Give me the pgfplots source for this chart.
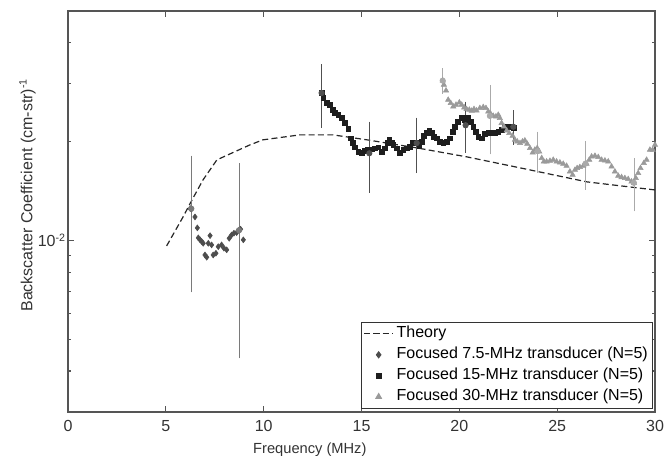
\documentclass[border=0pt]{standalone}
\usepackage{fontspec}
\setmainfont{Liberation Sans}
\usepackage{pgfplots}
\pgfplotsset{compat=1.18}
\definecolor{axgray}{HTML}{555555}
\definecolor{dgray}{HTML}{4D4D4D}
\definecolor{sqblack}{HTML}{1E1E1E}
\definecolor{tgray}{HTML}{9A9A9A}
\definecolor{ebA}{HTML}{7A7A7A}
\definecolor{ebB}{HTML}{505050}
\definecolor{ebC}{HTML}{AAAAAA}
\newcommand{\fnt}{\fontsize{12pt}{14.4pt}\selectfont}
\begin{document}
\begin{tikzpicture}
\path[use as bounding box] (-51pt,-32.25pt) rectangle (449.25pt,309pt);
\begin{axis}[
  scale only axis, width=440.25pt, height=300.75pt,
  at={(0pt,0pt)}, anchor=south west,
  xmin=0, xmax=30, ymode=log, ymin=0.003, ymax=0.05,
  xtick={0,5,...,30},
  ytick={0.01}, yticklabels={10\textsuperscript{-2}},
  minor ytick={0.004,0.005,0.006,0.007,0.008,0.009,0.02,0.03,0.04},
  /pgf/number format/assume math mode=true,
  tick label style={font=\fnt, black!80},
  xticklabel style={yshift=-2.5pt},
  yticklabel style={inner xsep=1.5pt},
  axis line style={axgray, line width=1pt},
  tick style={axgray, line width=0.8pt},
  major tick length=4.5pt, minor tick length=2.25pt,
  tick align=inside,
  xlabel={Frequency (MHz)},
  ylabel={Backscatter Coefficient (cm-str)\textsuperscript{-1}},
  every axis x label/.style={at={(axis description cs:0.412,0)}, anchor=north, yshift=-19.5pt, font=\fontsize{11pt}{13pt}\selectfont, black!80},
  every axis y label/.style={at={(axis description cs:-0.069,0.541)}, rotate=90, anchor=center, font=\fnt, black!80},
  legend style={at={(1,0)}, anchor=south east, xshift=-1.5pt, yshift=2.25pt,
    draw=black!80, line width=0.8pt, font=\fnt, inner xsep=1.5pt, inner ysep=1pt,
    nodes={text height=8.6pt, text depth=2.5pt, inner ysep=2.3pt, inner xsep=2pt}},
  legend cell align=left,
  legend image code/.code={\draw[mark repeat=2,mark phase=2,#1] plot coordinates {(0pt,0pt)(11pt,0pt)(22pt,0pt)};},
]
% Theory
\addplot[black!85, line width=0.9pt, dash pattern=on 4.5pt off 2.5pt] coordinates {
(5.04,0.00962)(5.88,0.01179)(6.34,0.01329)(6.90,0.01529)(7.61,0.01760)(8.28,0.01835)
(9.30,0.01955)(9.96,0.02025)(11.85,0.02097)(13.54,0.02097)(15.28,0.02025)(17.83,0.01914)
(20.39,0.01797)(23.10,0.01664)(26.52,0.01508)(30.00,0.01425)};
\addlegendentry{Theory}
% 7.5 MHz
\addplot[only marks, mark=diamond*, mark size=2.2pt, color=dgray] coordinates {
(6.25,0.01250)(6.32,0.01247)(6.49,0.01179)(6.61,0.01092)(6.66,0.01018)(6.75,0.01004)
(6.83,0.00992)(6.91,0.00980)(7.00,0.00903)(7.09,0.00889)(7.17,0.00980)(7.26,0.01034)
(7.34,0.00969)(7.42,0.00903)(7.56,0.00914)(7.68,0.00957)(7.85,0.00969)(7.97,0.00947)
(8.11,0.00936)(8.24,0.01015)(8.36,0.01039)(8.48,0.01052)(8.62,0.01056)(8.75,0.01076)
(8.82,0.01082)(8.96,0.01004)};
\addlegendentry{Focused 7.5-MHz transducer (N=5)}
% 15 MHz
\addplot[only marks, mark=square*, mark size=1.8pt, color=sqblack] coordinates {
(12.96,0.02811)(13.05,0.02714)(13.22,0.02631)(13.39,0.02589)(13.53,0.02500)(13.64,0.02442)
(13.81,0.02413)(13.99,0.02358)(14.15,0.02277)(14.32,0.02183)(14.45,0.02049)(14.55,0.01979)
(14.67,0.01924)(14.83,0.01866)(15.01,0.01853)(15.18,0.01879)(15.34,0.01888)(15.52,0.01897)
(15.69,0.01910)(15.86,0.01924)(16.03,0.01866)(16.20,0.01910)(16.32,0.01987)(16.42,0.02025)
(16.54,0.01979)(16.62,0.01955)(16.80,0.01910)(16.96,0.01845)(17.13,0.01888)(17.31,0.01910)
(17.48,0.01932)(17.64,0.01979)(17.82,0.01987)(17.95,0.01942)(18.07,0.02001)(18.19,0.02083)
(18.33,0.02132)(18.46,0.02162)(18.58,0.02132)(18.70,0.02064)(18.84,0.02049)(19.01,0.02001)
(19.18,0.01979)(19.35,0.02001)(19.52,0.02049)(19.66,0.02146)(19.78,0.02223)(19.94,0.02302)
(20.12,0.02358)(20.29,0.02330)(20.45,0.02374)(20.58,0.02302)(20.71,0.02223)(20.85,0.02146)
(20.97,0.02073)(21.14,0.02049)(21.31,0.02112)(21.48,0.02132)(21.65,0.02132)(21.82,0.02132)
(21.99,0.02146)(22.16,0.02172)(22.33,0.02223)(22.50,0.02214)(22.67,0.02223)(22.79,0.02198)};
\addlegendentry{Focused 15-MHz transducer (N=5)}
% 30 MHz
\addplot[only marks, mark=triangle*, mark size=2.3pt, color=tgray] coordinates {
(19.15,0.03071)(19.21,0.02980)(19.32,0.02862)(19.43,0.02681)(19.56,0.02620)(19.69,0.02558)
(19.83,0.02589)(20.00,0.02631)(20.12,0.02589)(20.25,0.02541)(20.37,0.02512)(20.51,0.02500)
(20.63,0.02482)(20.75,0.02512)(20.88,0.02487)(21.05,0.02530)(21.22,0.02547)(21.36,0.02530)
(21.48,0.02470)(21.60,0.02430)(21.73,0.02396)(21.87,0.02385)(21.99,0.02413)(22.07,0.02358)
(22.16,0.02277)(22.28,0.02223)(22.42,0.02162)(22.55,0.02122)(22.72,0.02083)(22.84,0.02025)
(22.96,0.02001)(23.10,0.01979)(23.23,0.02001)(23.35,0.02015)(23.47,0.01969)(23.61,0.01910)
(23.75,0.01853)(23.86,0.01888)(23.98,0.01910)(24.08,0.01866)(24.21,0.01781)(24.32,0.01739)
(24.46,0.01739)(24.63,0.01747)(24.80,0.01760)(24.97,0.01739)(25.14,0.01727)(25.31,0.01711)
(25.48,0.01687)(25.65,0.01621)(25.79,0.01584)(25.91,0.01640)(26.02,0.01660)(26.16,0.01672)
(26.33,0.01687)(26.50,0.01711)(26.64,0.01760)(26.76,0.01801)(26.93,0.01810)(27.10,0.01794)
(27.27,0.01760)(27.44,0.01751)(27.61,0.01739)(27.78,0.01679)(27.95,0.01621)(28.12,0.01573)
(28.29,0.01558)(28.46,0.01548)(28.63,0.01537)(28.80,0.01511)(28.92,0.01494)(29.02,0.01548)
(29.14,0.01603)(29.26,0.01660)(29.43,0.01720)(29.57,0.01760)(29.74,0.01888)(29.88,0.01888)
(30.00,0.01955)};
\addlegendentry{Focused 30-MHz transducer (N=5)}
% error bars
\addplot[forget plot, only marks, mark=none, color=ebA, line width=0.6pt,
  error bars/.cd, y dir=both, y explicit, error mark=-, error mark options={mark size=0.8pt, ebA}]
  coordinates {(6.30,0.0125) +- (0,0.0055) (8.74,0.01074) +- (0,0.00634)};
\addplot[forget plot, only marks, mark=none, color=ebB, line width=0.6pt,
  error bars/.cd, y dir=both, y explicit, error mark=-, error mark options={mark size=1.6pt, ebB}]
  coordinates {(12.96,0.02814) +- (0,0.00575) (15.40,0.01843) +- (0,0.00424)
  (17.82,0.01980) +- (0,0.00351) (20.32,0.02243) +- (0,0.00364) (22.76,0.02220) +- (0,0.00233)};
\addplot[forget plot, only marks, mark=none, color=ebC, line width=0.6pt,
  error bars/.cd, y dir=both, y explicit, error mark=-, error mark options={mark size=1.6pt, ebC}]
  coordinates {(19.15,0.03068) +- (0,0.00226) (21.56,0.02395) +- (0,0.00537)
  (24.00,0.01871) +- (0,0.00242) (26.45,0.01714) +- (0,0.00266) (28.92,0.01498) +- (0,0.00253)};
\end{axis}
\end{tikzpicture}
\end{document}
